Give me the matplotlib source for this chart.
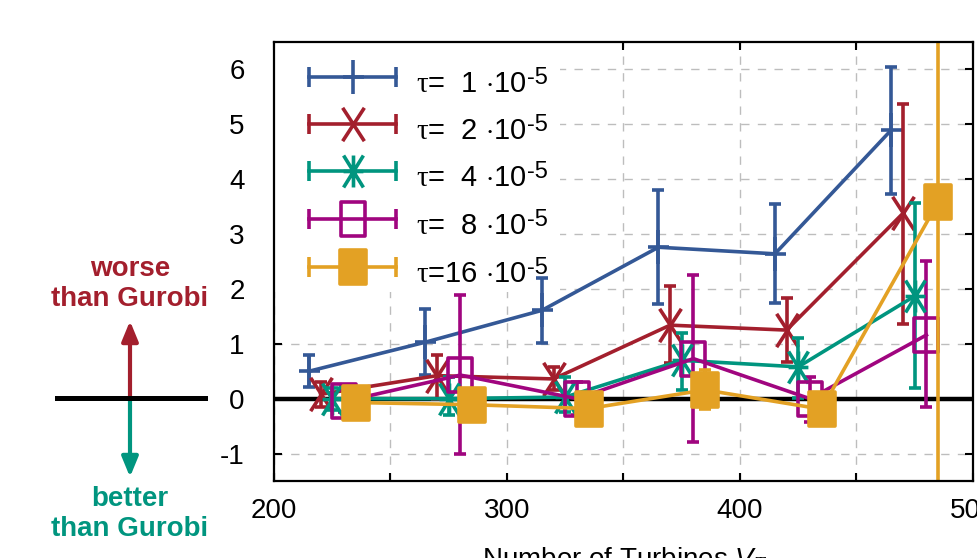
import numpy as np
import matplotlib
matplotlib.use("Agg")
import matplotlib.pyplot as plt
from matplotlib.path import Path
from matplotlib.patches import Rectangle, FancyArrowPatch
from matplotlib.lines import Line2D

plt.rcParams['font.family'] = ['Liberation Sans', 'DejaVu Sans']
plt.rcParams['mathtext.fontset'] = 'custom'
plt.rcParams['mathtext.rm'] = 'Liberation Sans'
plt.rcParams['mathtext.it'] = 'Liberation Serif'
plt.rcParams['mathtext.sf'] = 'Liberation Sans:italic'
plt.rcParams['mathtext.cal'] = 'Liberation Serif:italic'
plt.rcParams['axes.unicode_minus'] = False

# ---------------- data ----------------
x_base = [215, 265, 315, 365, 415, 465]
offsets = [0, 5, 10, 15, 20]
tau_labels = [r'$\tau$=  1 $\cdot$10', r'$\tau$=  2 $\cdot$10',
              r'$\tau$=  4 $\cdot$10', r'$\tau$=  8 $\cdot$10',
              r'$\tau$=16 $\cdot$10']
tau_exp = ['-5', '-5', '-5', '-5', '-5']

y_t1 = [0.50, 1.03, 1.61, 2.76, 2.64, 4.90]
lo_t1 = [0.21, 0.44, 1.01, 1.73, 1.75, 3.73]
hi_t1 = [0.79, 1.64, 2.20, 3.80, 3.55, 6.05]

y_t2 = [0.08, 0.42, 0.36, 1.34, 1.25, 3.38]
lo_t2 = [-0.15, 0.00, 0.15, 0.65, 0.67, 1.37]
hi_t2 = [0.30, 0.80, 0.57, 2.06, 1.84, 5.37]

y_t4 = [0.00, 0.00, 0.03, 0.70, 0.58, 1.87]
lo_t4 = [-0.20, -0.30, -0.25, 0.16, 0.02, 0.20]
hi_t4 = [0.20, 0.40, 0.39, 1.19, 1.10, 3.56]

y_t8 = [-0.05, 0.43, 0.00, 0.73, 0.00, 1.16]
lo_t8 = [-0.25, -1.00, -0.30, -0.79, -0.43, -0.16]
hi_t8 = [0.15, 1.89, 0.30, 2.25, 0.39, 2.51]

y_t16 = [-0.07, -0.11, -0.18, 0.16, -0.19, 3.58]
lo_t16 = [-0.17, -0.21, -0.28, -0.18, -0.29, -25.0]
hi_t16 = [0.03, -0.01, -0.08, 0.52, -0.09, 25.0]

colors = ['#345896', '#A31F2D', '#00957F', '#A0057F', '#E3A124']

# ---------------- marker shapes ----------------
M, L, C = Path.MOVETO, Path.LINETO, Path.CLOSEPOLY
plus_m = Path([(-0.63, 0), (0.63, 0), (0, -1), (0, 1)], [M, L, M, L])
x_m = Path([(-0.65, -1), (0.65, 1), (-0.65, 1), (0.65, -1)], [M, L, M, L])
star_m = Path([(-0.62, -1), (0.62, 1), (-0.62, 1), (0.62, -1), (0, -1), (0, 1),
               (-0.62, 0), (0.62, 0)], [M, L, M, L, M, L, M, L])
sq_m = Path([(-0.72, -1), (0.72, -1), (0.72, 1), (-0.72, 1), (-0.72, -1)],
            [M, L, L, L, C])
sqf_m = Path([(-0.74, -1), (0.74, -1), (0.74, 1), (-0.74, 1), (-0.74, -1)],
             [M, L, L, L, C])

series = [
    (y_t1, lo_t1, hi_t1, plus_m, 'none', 24),
    (y_t2, lo_t2, hi_t2, x_m, 'none', 24),
    (y_t4, lo_t4, hi_t4, star_m, 'none', 23),
    (y_t8, lo_t8, hi_t8, sq_m, 'none', 24),
    (y_t16, lo_t16, hi_t16, sqf_m, 'fill', 25),
]

W, H = 978, 558
fig = plt.figure(figsize=(W / 100, H / 100), dpi=100)
ax = fig.add_axes([274 / W, (H - 481) / H, 699 / W, 439 / H])

ax.set_xlim(200, 500)
ax.set_ylim(-1.5, 6.5)
ax.set_axisbelow(True)
ax.grid(True, color='#bdbdbd', linestyle=(0, (6, 6)), linewidth=1.0)

xt = np.arange(200, 501, 50)
ax.set_xticks(xt)
ax.set_xticklabels([str(v) if v % 100 == 0 else '' for v in xt])
ax.set_yticks(np.arange(-1, 7, 1))
ax.tick_params(direction='in', length=6, width=1.5, top=True, right=True,
               labelsize=20)
ax.tick_params(axis='x', pad=12)
ax.tick_params(axis='y', pad=21)
for s in ax.spines.values():
    s.set_linewidth(1.6)

# legend background (covers grid)
ax.add_patch(Rectangle((0, 0.43), 0.409, 0.57, transform=ax.transAxes,
                       facecolor='white', edgecolor='none', zorder=1))

ax.axhline(0, color='black', lw=3.2, zorder=1.5)

lw = 2.6
for i, (yv, lo, hi, mk, fill, ms) in enumerate(series):
    xs = np.array(x_base) + offsets[i]
    yv = np.array(yv)
    err = [yv - np.array(lo), np.array(hi) - yv]
    c = colors[i]
    ax.errorbar(xs, yv, yerr=err, color=c, lw=lw, elinewidth=lw,
                capsize=4.5, capthick=lw, marker=mk, ms=ms,
                mfc=(c if fill == 'fill' else 'none'), mec=c, mew=lw,
                zorder=2 + i * 0.1)

# manual gnuplot-like key
row_px = [76.7, 124.0, 171.0, 218.5, 266.5]
x0, x1, xm = (309 - 274) / 699, (396 - 274) / 699, (352.7 - 274) / 699
xtext = (416 - 274) / 699
main_texts = []
for i, (yv, lo, hi, mk, fill, ms) in enumerate(series):
    c = colors[i]
    yy = (481 - row_px[i]) / 439
    ax.plot([x0, x1], [yy, yy], color=c, lw=lw, transform=ax.transAxes,
            zorder=5, clip_on=False)
    ax.plot([x0, x1], [yy, yy], ls='none', marker='|', ms=15, mew=lw,
            color=c, transform=ax.transAxes, zorder=5, clip_on=False)
    ax.plot([xm], [yy], ls='none', marker=mk, ms=ms, mew=lw, mec=c,
            mfc=(c if fill == 'fill' else 'none'), transform=ax.transAxes,
            zorder=5, clip_on=False)
    yb = (481 - (row_px[i] + 15)) / 439
    t = ax.text(xtext, yb, tau_labels[i], transform=ax.transAxes, fontsize=21,
                va='baseline', ha='left', zorder=6)
    main_texts.append((t, row_px[i] + 15))

fig.canvas.draw()
renderer = fig.canvas.get_renderer()
for i, (t, base_px) in enumerate(main_texts):
    bb = t.get_window_extent(renderer)
    fig.text((bb.x1 + 1) / W, (H - (base_px - 8)) / H, tau_exp[i], fontsize=17,
             va='baseline', ha='left', zorder=6)

# x label (mostly cut off at bottom)
fig.text(625 / W, (H - 545) / H, r'Number of Turbines $\mathsf{V}_{\mathcal{T}}$',
         fontsize=20, ha='center', va='top')

# left annotation
red_c, green_c = '#A31F2D', '#00957F'
xa = 130 / W
y0f = (H - 398.3) / H
fig.text(xa, (H - 284.5) / H, 'worse\nthan Gurobi', color=red_c, fontsize=20,
         fontweight='bold', ha='center', va='center', linespacing=1.2)
fig.text(xa, (H - 513.5) / H, 'better\nthan Gurobi', color=green_c, fontsize=20,
         fontweight='bold', ha='center', va='center', linespacing=1.2)
arrow_kw = dict(arrowstyle='-|>,head_length=0.8,head_width=0.33', lw=3,
                mutation_scale=15, shrinkA=0, shrinkB=0)
fig.add_artist(FancyArrowPatch(
    (xa, y0f), (xa, (H - 321) / H), transform=fig.transFigure,
    color=red_c, **arrow_kw))
fig.add_artist(FancyArrowPatch(
    (xa, y0f), (xa, (H - 477) / H), transform=fig.transFigure,
    color=green_c, **arrow_kw))
fig.add_artist(Line2D([57 / W, 205 / W], [y0f, y0f], color='black', lw=3.6,
                      transform=fig.transFigure))

fig.savefig('out.png', dpi=100)
